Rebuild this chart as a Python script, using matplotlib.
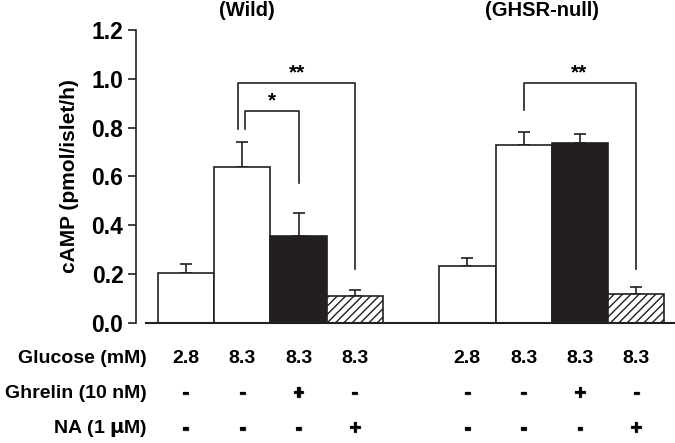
import matplotlib
matplotlib.use('Agg')
import matplotlib.pyplot as plt
import matplotlib.patheffects as pe
import numpy as np

plt.rcParams['font.family'] = ['Liberation Sans', 'DejaVu Sans']
plt.rcParams['font.weight'] = 'bold'
plt.rcParams['axes.labelweight'] = 'bold'
plt.rcParams['mathtext.default'] = 'bf'
plt.rcParams['hatch.linewidth'] = 1.0

pos = [0, 1, 2, 3, 5, 6, 7, 8]
camp = [0.206, 0.639, 0.355, 0.111, 0.234, 0.730, 0.736, 0.118]
sem = [0.034, 0.103, 0.096, 0.024, 0.031, 0.051, 0.039, 0.028]
fills = ['white', 'white', '#231f20', 'white', 'white', 'white', '#231f20', 'white']
hatches = ['', '', '', '////', '', '', '', '////']
glucose = ['2.8', '8.3', '8.3', '8.3', '2.8', '8.3', '8.3', '8.3']
ghrelin = ['-', '-', '+', '-', '-', '-', '+', '-']
na = ['-', '-', '-', '+', '-', '-', '-', '+']
row_names = ['Glucose (mM)', 'Ghrelin (10 nM)', 'NA (1 $\\mu$M)']
groups = ['(Wild)', '(GHSR-null)']

fig = plt.figure(figsize=(6.75, 4.43), dpi=100)
ax = fig.add_axes([136/675, 120/443, 538/675, 293/443])

ax.bar(pos, camp, width=1.0, color=fills, edgecolor='#231f20', linewidth=1.2,
       hatch=hatches, zorder=2)
ax.errorbar(pos, camp, yerr=[np.zeros(len(sem)), sem], fmt='none', ecolor='#231f20',
            elinewidth=1.2, capsize=4.5, capthick=1.2, zorder=1)

ax.set_xlim(-0.888, 8.67)
ax.set_ylim(0, 1.2)
ax.set_yticks(np.arange(0, 1.21, 0.2))
ax.set_yticklabels(['%.1f' % v for v in np.arange(0, 1.21, 0.2)], fontsize=16.5)
ax.set_xticks([])
for s in ['top', 'right', 'bottom']:
    ax.spines[s].set_visible(False)
ax.spines['left'].set_linewidth(1.2)
ax.spines['left'].set_color('#231f20')
ax.tick_params(axis='y', length=6, width=1.2, color='#231f20', pad=3)
ax.plot([-0.71, 8.67], [0, 0], color='#231f20', lw=1.5, clip_on=False, zorder=3)
ax.set_ylabel('cAMP (pmol/islet/h)', fontsize=15, labelpad=9)

# significance brackets
def bracket(x1, y1, x2, y2, top, lab, lx, ly):
    ax.plot([x1, x1, x2, x2], [y1, top, top, y2], color='#231f20', lw=1.2, clip_on=False)
    ax.text(lx, ly, lab, ha='center', va='center', fontsize=15)

bracket(0.93, 0.794, 3.0, 0.22, 0.982, '**', 1.98, 1.025)
bracket(1.05, 0.794, 2.0, 0.572, 0.868, '*', 1.53, 0.91)
bracket(6.0, 0.874, 8.0, 0.22, 0.984, '**', 6.98, 1.025)

ax.text(1.08, 1.28, groups[0], ha='center', va='center', fontsize=14.5, clip_on=False)
ax.text(6.33, 1.28, groups[1], ha='center', va='center', fontsize=14.5, clip_on=False)

rows = [glucose, ghrelin, na]
row_y = [-0.146, -0.29, -0.434]
thick = [pe.withStroke(linewidth=0.9, foreground='#231f20')]
for name, vals, yy in zip(row_names, rows, row_y):
    ax.text(-0.69, yy, name, ha='right', va='center', fontsize=14, clip_on=False)
    for p, v in zip(pos, vals):
        t = ax.text(p, yy, v, ha='center', va='center', fontsize=14, clip_on=False)
        if v in ('-', '+'):
            t.set_path_effects(thick)

fig.savefig('out.png', dpi=100)
